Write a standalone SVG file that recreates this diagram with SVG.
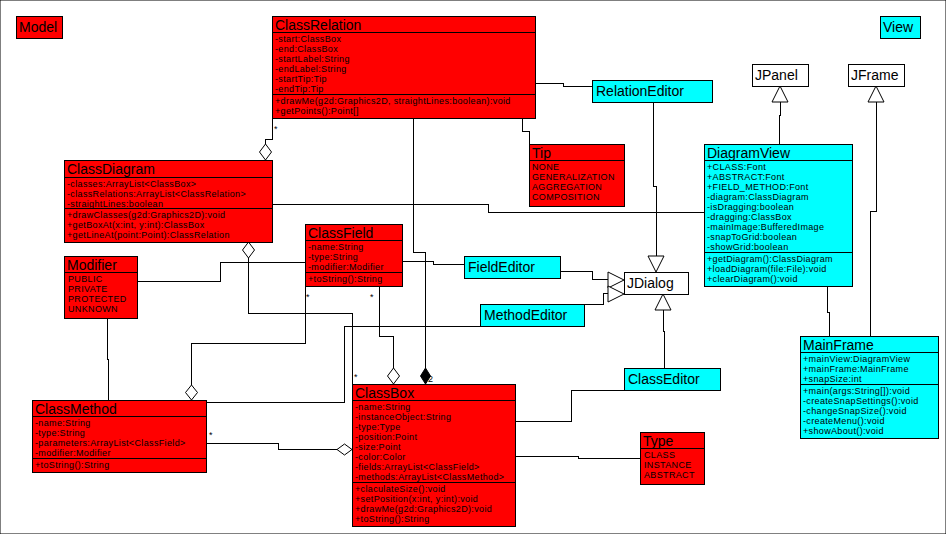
<svg xmlns="http://www.w3.org/2000/svg" width="946" height="534" viewBox="0 0 946 534">
<style>
rect{stroke:#000;stroke-width:1}
.r{fill:#f00}.c{fill:#0ff}.w{fill:#fff}
line,path{stroke:#000;stroke-width:1;fill:none}
.t{font-family:"Liberation Sans",Arial,sans-serif;font-size:14px;fill:#000}
.s{font-family:"Liberation Sans",Arial,sans-serif;font-size:9px;letter-spacing:0.35px;fill:#000}
.h{fill:#fff;stroke:#000}
.f{fill:#000;stroke:#000}
</style>
<rect width="946" height="534" fill="#fff" stroke="none"/>
<g id="connectors" shape-rendering="crispEdges">
<path d="M272.5 118V139.5H265.5V144"/>
<path d="M413.5 118V252.5H425.5V368"/>
<path d="M522.5 118V131.5H529.5V144"/>
<path d="M535 83.5H563.5V86.5H592"/>
<path d="M653.5 102V186.5H656.5V256"/>
<path d="M272 204.5H488.5V212.5H704"/>
<path d="M779.5 144V115.5H780.5V102"/>
<path d="M870.5 336V211.5H876.5V102"/>
<path d="M827.5 286V312.5H829.5V336"/>
<path d="M560 271.5H592.5V279.5H608"/>
<path d="M584 304.5H603.5V293.5H608"/>
<path d="M664.5 368V331.5H663.5V310"/>
<path d="M624 390.5H571.5V421.5H515"/>
<path d="M515 456.5H578.5V458.5H640"/>
<path d="M402 261.5H433.5V264.5H464"/>
<path d="M137 281.5H220.5V262.5H305"/>
<path d="M305.5 286V343.5H191.5V385"/>
<path d="M379.5 286V336.5H393.5V368"/>
<path d="M248.5 258V313.5H352.5V384"/>
<path d="M480 326.5H344.5V402.5H206"/>
<path d="M107.5 318V359.5H108.5V400"/>
<path d="M206 443.5H278.5V449.5H337"/>
</g>
<g id="markers">
<path class="h" d="M265.5 144L259.5 152L265.5 160L271.5 152Z"/>
<path class="f" d="M425.5 368L420.5 376L425.5 384L430.5 376Z"/>
<path class="h" d="M648 256H664L656 272Z"/>
<path class="h" d="M772 102H788L780 86Z"/>
<path class="h" d="M868 102H884L876 86Z"/>
<path class="h" d="M608 272V288L624 280Z"/>
<path class="h" d="M608 286V302L624 294Z"/>
<path class="h" d="M655 310H671L663 294Z"/>
<path class="h" d="M191.5 385L185.5 392.5L191.5 400L197.5 392.5Z"/>
<path class="h" d="M393.5 368L387.5 376L393.5 384L399.5 376Z"/>
<path class="h" d="M248.5 242L242.5 250L248.5 258L254.5 250Z"/>
<path class="h" d="M337 449.5L344.5 444L352 449.5L344.5 455Z"/>
<text class="s" x="274" y="132">*</text>
<text class="s" x="428" y="382">2</text>
<text class="s" x="306" y="300">*</text>
<text class="s" x="370" y="300">*</text>
<text class="s" x="354" y="380">*</text>
<text class="s" x="209" y="438">*</text>
</g>
<g id="Model"><rect class="r" x="16.5" y="16.5" width="46" height="22"/><text class="t" x="19" y="32">Model</text></g>
<g id="View"><rect class="c" x="880.5" y="16.5" width="40" height="22"/><text class="t" x="883" y="32">View</text></g>
<g id="ClassRelation"><rect class="r" x="272.5" y="16.5" width="263" height="102"/>
<line x1="272" y1="32.5" x2="535" y2="32.5"/><line x1="272" y1="94.5" x2="535" y2="94.5"/>
<text class="t" x="275" y="30">ClassRelation</text>
<text class="s" x="275" y="42">-start:ClassBox</text><text class="s" x="275" y="52">-end:ClassBox</text><text class="s" x="275" y="62">-startLabel:String</text><text class="s" x="275" y="72">-endLabel:String</text><text class="s" x="275" y="82">-startTip:Tip</text><text class="s" x="275" y="92">-endTip:Tip</text>
<text class="s" x="275" y="104">+drawMe(g2d:Graphics2D, straightLines:boolean):void</text><text class="s" x="275" y="114">+getPoints():Point[]</text></g>
<g id="ClassDiagram"><rect class="r" x="64.5" y="160.5" width="208" height="82"/>
<line x1="64" y1="177.5" x2="272" y2="177.5"/><line x1="64" y1="208.5" x2="272" y2="208.5"/>
<text class="t" x="67" y="174">ClassDiagram</text>
<text class="s" x="67" y="187">-classes:ArrayList&lt;ClassBox&gt;</text><text class="s" x="67" y="197">-classRelations:ArrayList&lt;ClassRelation&gt;</text><text class="s" x="67" y="207">-straightLines:boolean</text>
<text class="s" x="67" y="218">+drawClasses(g2d:Graphics2D):void</text><text class="s" x="67" y="228">+getBoxAt(x:int, y:int):ClassBox</text><text class="s" x="67" y="238">+getLineAt(point:Point):ClassRelation</text></g>
<g id="Tip"><rect class="r" x="529.5" y="144.5" width="95" height="62"/>
<line x1="529" y1="160.5" x2="624" y2="160.5"/>
<text class="t" x="532" y="158">Tip</text>
<text class="s" x="532" y="170">NONE</text><text class="s" x="532" y="180">GENERALIZATION</text><text class="s" x="532" y="190">AGGREGATION</text><text class="s" x="532" y="200">COMPOSITION</text></g>
<g id="ClassField"><rect class="r" x="305.5" y="224.5" width="97" height="62"/>
<line x1="305" y1="240.5" x2="402" y2="240.5"/><line x1="305" y1="272.5" x2="402" y2="272.5"/>
<text class="t" x="308" y="238">ClassField</text>
<text class="s" x="308" y="250">-name:String</text><text class="s" x="308" y="260">-type:String</text><text class="s" x="308" y="270">-modifier:Modifier</text>
<text class="s" x="308" y="282">+toString():String</text></g>
<g id="Modifier"><rect class="r" x="64.5" y="256.5" width="73" height="62"/>
<line x1="64" y1="272.5" x2="137" y2="272.5"/>
<text class="t" x="67" y="270">Modifier</text>
<text class="s" x="68" y="282">PUBLIC</text><text class="s" x="68" y="292">PRIVATE</text><text class="s" x="68" y="302">PROTECTED</text><text class="s" x="68" y="312">UNKNOWN</text></g>
<g id="ClassMethod"><rect class="r" x="32.5" y="400.5" width="174" height="72"/>
<line x1="32" y1="416.5" x2="206" y2="416.5"/><line x1="32" y1="458.5" x2="206" y2="458.5"/>
<text class="t" x="35" y="414">ClassMethod</text>
<text class="s" x="35" y="426">-name:String</text><text class="s" x="35" y="436">-type:String</text><text class="s" x="35" y="446">-parameters:ArrayList&lt;ClassField&gt;</text><text class="s" x="35" y="456">-modifier:Modifier</text>
<text class="s" x="35" y="468">+toString():String</text></g>
<g id="ClassBox"><rect class="r" x="352.5" y="384.5" width="163" height="142"/>
<line x1="352" y1="400.5" x2="515" y2="400.5"/><line x1="352" y1="482.5" x2="515" y2="482.5"/>
<text class="t" x="355" y="398">ClassBox</text>
<text class="s" x="355" y="410">-name:String</text><text class="s" x="355" y="420">-instanceObject:String</text><text class="s" x="355" y="430">-type:Type</text><text class="s" x="355" y="440">-position:Point</text><text class="s" x="355" y="450">-size:Point</text><text class="s" x="355" y="460">-color:Color</text><text class="s" x="355" y="470">-fields:ArrayList&lt;ClassField&gt;</text><text class="s" x="355" y="480">-methods:ArrayList&lt;ClassMethod&gt;</text>
<text class="s" x="355" y="492">+claculateSize():void</text><text class="s" x="355" y="502">+setPosition(x:int, y:int):void</text><text class="s" x="355" y="512">+drawMe(g2d:Graphics2D):void</text><text class="s" x="355" y="522">+toString():String</text></g>
<g id="Type"><rect class="r" x="640.5" y="432.5" width="64" height="52"/>
<line x1="640" y1="448.5" x2="704" y2="448.5"/>
<text class="t" x="643" y="446">Type</text>
<text class="s" x="644" y="458">CLASS</text><text class="s" x="644" y="468">INSTANCE</text><text class="s" x="644" y="478">ABSTRACT</text></g>
<g id="RelationEditor"><rect class="c" x="592.5" y="80.5" width="120" height="22"/><text class="t" x="596" y="96">RelationEditor</text></g>
<g id="JPanel"><rect class="w" x="752.5" y="64.5" width="56" height="22"/><text class="t" x="755" y="80">JPanel</text></g>
<g id="JFrame"><rect class="w" x="848.5" y="64.5" width="56" height="22"/><text class="t" x="851" y="80">JFrame</text></g>
<g id="JDialog"><rect class="w" x="624.5" y="272.5" width="64" height="22"/><text class="t" x="627" y="288">JDialog</text></g>
<g id="FieldEditor"><rect class="c" x="464.5" y="256.5" width="96" height="22"/><text class="t" x="468" y="272">FieldEditor</text></g>
<g id="MethodEditor"><rect class="c" x="480.5" y="304.5" width="104" height="22"/><text class="t" x="484" y="320">MethodEditor</text></g>
<g id="ClassEditor"><rect class="c" x="624.5" y="368.5" width="96" height="22"/><text class="t" x="628" y="384">ClassEditor</text></g>
<g id="DiagramView"><rect class="c" x="704.5" y="144.5" width="148" height="142"/>
<line x1="704" y1="160.5" x2="852" y2="160.5"/><line x1="704" y1="252.5" x2="852" y2="252.5"/>
<text class="t" x="707" y="158">DiagramView</text>
<text class="s" x="707" y="170">+CLASS:Font</text><text class="s" x="707" y="180">+ABSTRACT:Font</text><text class="s" x="707" y="190">+FIELD_METHOD:Font</text><text class="s" x="707" y="200">-diagram:ClassDiagram</text><text class="s" x="707" y="210">-isDragging:boolean</text><text class="s" x="707" y="220">-dragging:ClassBox</text><text class="s" x="707" y="230">-mainImage:BufferedImage</text><text class="s" x="707" y="240">-snapToGrid:boolean</text><text class="s" x="707" y="250">-showGrid:boolean</text>
<text class="s" x="707" y="262">+getDiagram():ClassDiagram</text><text class="s" x="707" y="272">+loadDiagram(file:File):void</text><text class="s" x="707" y="282">+clearDiagram():void</text></g>
<g id="MainFrame"><rect class="c" x="800.5" y="336.5" width="138" height="102"/>
<line x1="800" y1="352.5" x2="938" y2="352.5"/><line x1="800" y1="384.5" x2="938" y2="384.5"/>
<text class="t" x="803" y="350">MainFrame</text>
<text class="s" x="803" y="362">+mainView:DiagramView</text><text class="s" x="803" y="372">+mainFrame:MainFrame</text><text class="s" x="803" y="382">+snapSize:int</text>
<text class="s" x="803" y="394">+main(args:String[]):void</text><text class="s" x="803" y="404">-createSnapSettings():void</text><text class="s" x="803" y="414">-changeSnapSize():void</text><text class="s" x="803" y="424">-createMenu():void</text><text class="s" x="803" y="434">+showAbout():void</text></g>
</svg>
